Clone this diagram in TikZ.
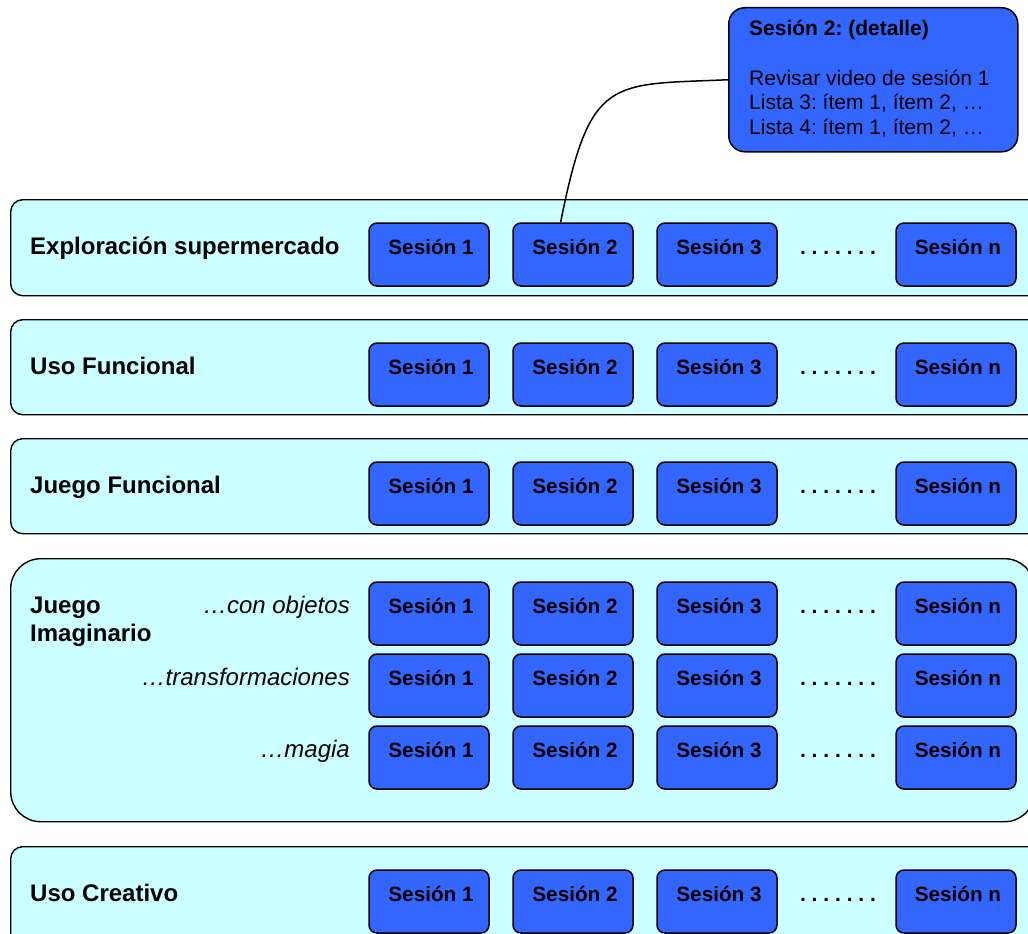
\documentclass[tikz,border=0pt]{standalone}
\usepackage{fontspec}
\setmainfont{Liberation Sans}
\frenchspacing
\definecolor{bandcyan}{HTML}{CCFFFF}
\definecolor{sessblue}{HTML}{3366FF}
\tikzset{
  band/.style={draw=black, line width=1.4pt, fill=bandcyan, rounded corners=12pt, inner sep=0pt},
  sess/.style={draw=black, line width=1.5pt, fill=sessblue, rounded corners=8pt,
    minimum width=120pt, text height=31pt, text depth=32pt, inner ysep=0pt, inner xsep=0pt,
    font=\bfseries\fontsize{20.7}{24}\selectfont},
  detail/.style={draw=black, line width=1.5pt, fill=sessblue, rounded corners=16pt, inner sep=0pt},
  lbl/.style={font=\bfseries\fontsize{24}{28.5}\selectfont, inner sep=0pt, anchor=base west},
  sublbl/.style={font=\itshape\fontsize{24}{28.5}\selectfont, inner sep=0pt, anchor=base east},
  dettxt/.style={font=\fontsize{21}{24.5}\selectfont, inner sep=0pt, anchor=base west},
  dotsty/.style={font=\bfseries\fontsize{21}{24}\selectfont, inner sep=0pt, anchor=base},
  link/.style={draw=black, line width=1.5pt}
}
\newcommand\SessRow[2]{%
  \node[sess, anchor=base] (#1a) at (429,#2) {\hspace*{4pt}Sesión 1};
  \node[sess, anchor=base] (#1b) at (573,#2) {\hspace*{4pt}Sesión 2};
  \node[sess, anchor=base] (#1c) at (717,#2) {\hspace*{4pt}Sesión 3};
  \node[dotsty] (#1d) at (838,#2) {. . . . . . .};
  \node[sess, anchor=base] (#1n) at (956,#2) {\hspace*{4pt}Sesión n};
}
\begin{document}
\begin{tikzpicture}[x=1pt, y=-1pt]
\useasboundingbox (0,0) rectangle (1028,934);
% bands
\node[band, anchor=north west, minimum width=1040pt, minimum height=96pt] (band1) at (10,199) {};
\node[band, anchor=north west, minimum width=1040pt, minimum height=95pt] (band2) at (10,319) {};
\node[band, anchor=north west, minimum width=1040pt, minimum height=95pt] (band3) at (10,438) {};
\node[band, rounded corners=30pt, anchor=north west, minimum width=1024pt, minimum height=263pt] (band4) at (10,558) {};
\node[band, anchor=north west, minimum width=1040pt, minimum height=120pt] (band5) at (10,846) {};
% labels
\node[lbl] (l1) at (30,254) {Exploración supermercado};
\node[lbl] (l2) at (30,374) {Uso Funcional};
\node[lbl] (l3) at (30,493) {Juego Funcional};
\node[lbl] (l4a) at (30,613) {Juego};
\node[lbl] (l4b) at (30,641.5) {Imaginario};
\node[sublbl] (s4a) at (350,613) {…con objetos};
\node[sublbl] (s4b) at (350,685) {…transformaciones};
\node[sublbl] (s4c) at (350,757) {…magia};
\node[lbl] (l5) at (30,901) {Uso Creativo};
% sessions
\SessRow{r1}{254}
\SessRow{r2}{374}
\SessRow{r3}{493}
\SessRow{r4}{613}
\SessRow{r5}{685}
\SessRow{r6}{757}
\SessRow{r7}{901}
% detail box
\node[detail, minimum width=289pt, minimum height=144pt, anchor=north west] (det) at (728,7) {};
\node[dettxt, font=\bfseries\fontsize{21}{24.5}\selectfont] (dt0) at (749,36) {Sesión 2: (detalle)};
\node[dettxt] (dt1) at (749,85) {Revisar video de sesión 1};
\node[dettxt] (dt2) at (749,110) {Lista 3: ítem 1, ítem 2, …};
\node[dettxt] (dt3) at (749,134) {Lista 4: ítem 1, ítem 2, …};
% connector
\draw[link] (r1b.111) .. controls (590,75) and (610,85) .. (det.west);
\end{tikzpicture}
\end{document}
